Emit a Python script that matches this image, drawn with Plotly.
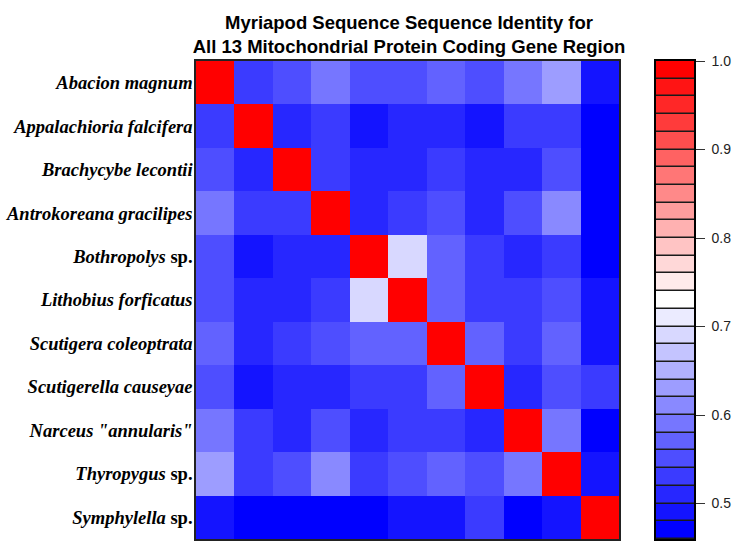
import plotly.graph_objects as go

species = [
    "<i>Abacion magnum</i>",
    "<i>Appalachioria falcifera</i>",
    "<i>Brachycybe lecontii</i>",
    "<i>Antrokoreana gracilipes</i>",
    "<i>Bothropolys</i> sp.",
    "<i>Lithobius forficatus</i>",
    "<i>Scutigera coleoptrata</i>",
    "<i>Scutigerella causeyae</i>",
    "<i>Narceus \"annularis\"</i>",
    "<i>Thyropygus</i> sp.",
    "<i>Symphylella</i> sp.",
]

identity = [
    [1.00, 0.53, 0.55, 0.59, 0.55, 0.55, 0.57, 0.55, 0.59, 0.63, 0.49],
    [0.53, 1.00, 0.51, 0.53, 0.49, 0.51, 0.51, 0.49, 0.53, 0.53, 0.47],
    [0.55, 0.51, 1.00, 0.53, 0.51, 0.51, 0.53, 0.51, 0.51, 0.55, 0.47],
    [0.59, 0.53, 0.53, 1.00, 0.51, 0.53, 0.55, 0.51, 0.55, 0.61, 0.47],
    [0.55, 0.49, 0.51, 0.51, 1.00, 0.69, 0.57, 0.53, 0.51, 0.53, 0.47],
    [0.55, 0.51, 0.51, 0.53, 0.69, 1.00, 0.57, 0.53, 0.53, 0.55, 0.49],
    [0.57, 0.51, 0.53, 0.55, 0.57, 0.57, 1.00, 0.57, 0.53, 0.57, 0.49],
    [0.55, 0.49, 0.51, 0.51, 0.53, 0.53, 0.57, 1.00, 0.51, 0.55, 0.53],
    [0.59, 0.53, 0.51, 0.55, 0.51, 0.53, 0.53, 0.51, 1.00, 0.59, 0.47],
    [0.63, 0.53, 0.55, 0.61, 0.53, 0.55, 0.57, 0.55, 0.59, 1.00, 0.49],
    [0.49, 0.47, 0.47, 0.47, 0.47, 0.49, 0.49, 0.53, 0.47, 0.49, 1.00],
]

zmin, zmax, step = 0.46, 1.00, 0.02
n_bands = int(round((zmax - zmin) / step))  # 27
band_centers = [round(zmin + step * (i + 0.5), 3) for i in range(n_bands)]
colorbar_ticks = [0.5, 0.6, 0.7, 0.8, 0.9, 1.0]


def band_color(i):
    t = i / (n_bands - 1)
    if t <= 0.5:
        s = round(255 * 2 * t)
        return f"rgb({s},{s},255)"
    s = round(255 * (2 - 2 * t))
    return f"rgb(255,{s},{s})"


colorscale = []
for i in range(n_bands):
    c = band_color(i)
    colorscale.append([i / n_bands, c])
    colorscale.append([(i + 1) / n_bands, c])

fig = go.Figure()

fig.add_trace(go.Heatmap(
    z=identity,
    x=list(range(len(species))),
    y=list(range(len(species))),
    zmin=zmin, zmax=zmax,
    colorscale=colorscale,
    showscale=False,
    xaxis="x", yaxis="y",
))

fig.add_trace(go.Heatmap(
    z=[[v] for v in band_centers],
    x=[0.5],
    y=band_centers,
    zmin=zmin, zmax=zmax,
    colorscale=colorscale,
    showscale=False,
    ygap=1.5,
    xaxis="x2", yaxis="y2",
))

W, H = 738, 545
L, R, T, B = 196, 44, 61, 6
pw = W - L - R

fig.update_layout(
    width=W, height=H,
    margin=dict(l=L, r=R, t=T, b=B, autoexpand=False),
    paper_bgcolor="white",
    plot_bgcolor="#1a1a1a",
    title=dict(
        text="<b>Myriapod Sequence Sequence Identity for<br>All 13 Mitochondrial Protein Coding Gene Region</b>",
        font=dict(family="Liberation Sans", size=18.5, color="black"),
        x=409 / W, xref="container", xanchor="center",
        y=1 - 29 / H, yref="container", yanchor="middle",
    ),
    xaxis=dict(
        domain=[0, (619 - L) / pw],
        range=[-0.5, len(species) - 0.5],
        showticklabels=False, ticks="", showgrid=False, zeroline=False,
        showline=True, mirror=True, linecolor="#222", linewidth=1.5,
    ),
    yaxis=dict(
        domain=[0, 1],
        range=[len(species) - 0.5, -0.5],
        tickmode="array",
        tickvals=list(range(len(species))),
        ticktext=[f"<b>{s}</b>" for s in species],
        tickfont=dict(family="Liberation Serif", size=18.5, color="black"),
        ticks="", ticklabelstandoff=-2, automargin=False,
        showgrid=False, zeroline=False,
        showline=True, mirror=True, linecolor="#222", linewidth=1.5,
    ),
    xaxis2=dict(
        domain=[(656 - L) / pw, 1],
        range=[0, 1],
        showticklabels=False, ticks="", showgrid=False, zeroline=False,
        showline=True, mirror=True, linecolor="black", linewidth=1.5,
        anchor="y2",
    ),
    yaxis2=dict(
        domain=[0, 1],
        range=[zmin, zmax],
        side="right",
        anchor="x2",
        tickmode="array",
        tickvals=colorbar_ticks,
        ticktext=[f"{v:.1f}" for v in colorbar_ticks],
        tickfont=dict(family="Liberation Sans", size=14, color="#222"),
        ticks="outside", ticklen=9, tickwidth=1.2, tickcolor="#333",
        ticklabelstandoff=4, automargin=False,
        showgrid=False, zeroline=False,
        showline=True, mirror=True, linecolor="black", linewidth=1.5,
    ),
)

fig.write_html(
    "out.html",
    config={"displayModeBar": False},
    post_script="document.body.style.margin='0';",
)
